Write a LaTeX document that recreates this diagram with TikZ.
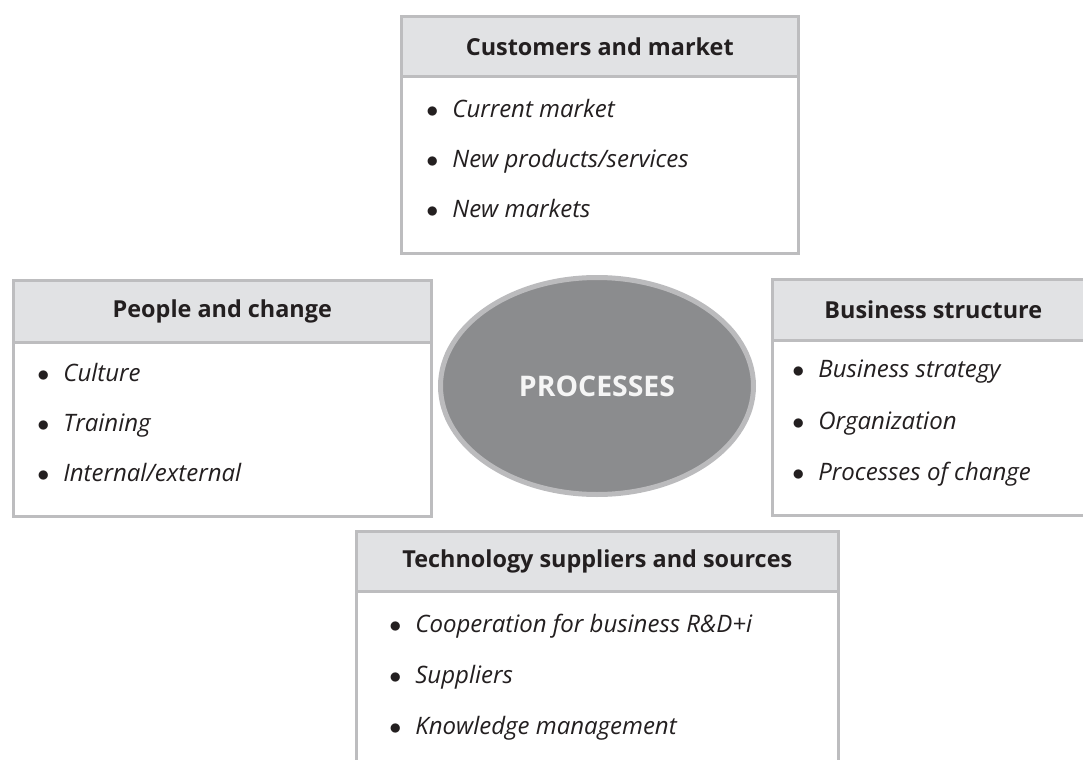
\documentclass[tikz,border=0pt]{standalone}
\usepackage{fontspec}
\setmainfont{Open Sans}
\usepackage{xcolor}
\usetikzlibrary{shapes.geometric, positioning, calc}

\definecolor{boxline}{HTML}{BDBDBF}
\definecolor{hdfill}{HTML}{E1E2E4}
\definecolor{procfill}{HTML}{8B8C8E}
\definecolor{procline}{HTML}{BBBBBD}
\definecolor{ink}{HTML}{231F20}

\newcommand{\itm}[1]{$\bullet$\hspace{7pt}#1}

\begin{document}
\begin{tikzpicture}[
    x=0.5pt, y=-0.5pt,
    block/.style={rectangle, draw=boxline, line width=1.3pt, fill=white, inner sep=0pt, anchor=north west},
    header/.style={rectangle, draw=boxline, line width=1.3pt, fill=hdfill, inner sep=0pt, anchor=north,
        text=ink, font=\bfseries\fontsize{11.7}{14}\selectfont},
    item/.style={anchor=base west, inner sep=0pt, text=ink, font=\itshape\fontsize{12}{14}\selectfont},
    proc/.style={ellipse, draw=procline, line width=2.5pt, fill=procfill, inner sep=0pt,
        text=white!96!black, font=\bfseries\fontsize{14.2}{17}\selectfont},
]
    \useasboundingbox (0,0) rectangle (1083,760);
    \clip (0,0) rectangle (1083,760);

    % customers and market
    \node[block, minimum width=198.5pt, minimum height=118.5pt] (cust) at (400,15) {};
    \node[header, minimum width=198.5pt, minimum height=30pt] (custhd) at (cust.north) {Customers and market};
    \node[item] (cust1) at (426,117) {\itm{Current market}};
    \node[item] (cust2) at (426,167) {\itm{New products/services}};
    \node[item] (cust3) at (426,217) {\itm{New markets}};

    % people and change
    \node[block, minimum width=209pt, minimum height=118pt] (people) at (12,279) {};
    \node[header, minimum width=209pt, minimum height=31pt] (peoplehd) at (people.north) {People and change};
    \node[item] (people1) at (37,381) {\itm{Culture}};
    \node[item] (people2) at (37,431) {\itm{Training}};
    \node[item] (people3) at (37,481) {\itm{Internal/external}};

    % business structure
    \node[block, minimum width=161pt, minimum height=118pt] (bus) at (771,278) {};
    \node[header, minimum width=161pt, minimum height=30.5pt] (bushd) at (bus.north) {Business structure};
    \node[item] (bus1) at (792,377) {\itm{Business strategy}};
    \node[item] (bus2) at (792,429) {\itm{Organization}};
    \node[item] (bus3) at (792,480) {\itm{Processes of change}};

    % technology suppliers and sources
    \node[block, minimum width=241pt, minimum height=130pt] (tech) at (355,530) {};
    \node[header, minimum width=241pt, minimum height=30pt] (techhd) at (tech.north) {Technology suppliers and sources};
    \node[item] (tech1) at (389,632) {\itm{Cooperation for business R\&D+i}};
    \node[item] (tech2) at (389,683) {\itm{Suppliers}};
    \node[item] (tech3) at (389,734) {\itm{Knowledge management}};

    % processes in the middle
    \node[proc, minimum width=156.5pt, minimum height=108.5pt] (proc) at (597,386) {PROCESSES};
\end{tikzpicture}
\end{document}
